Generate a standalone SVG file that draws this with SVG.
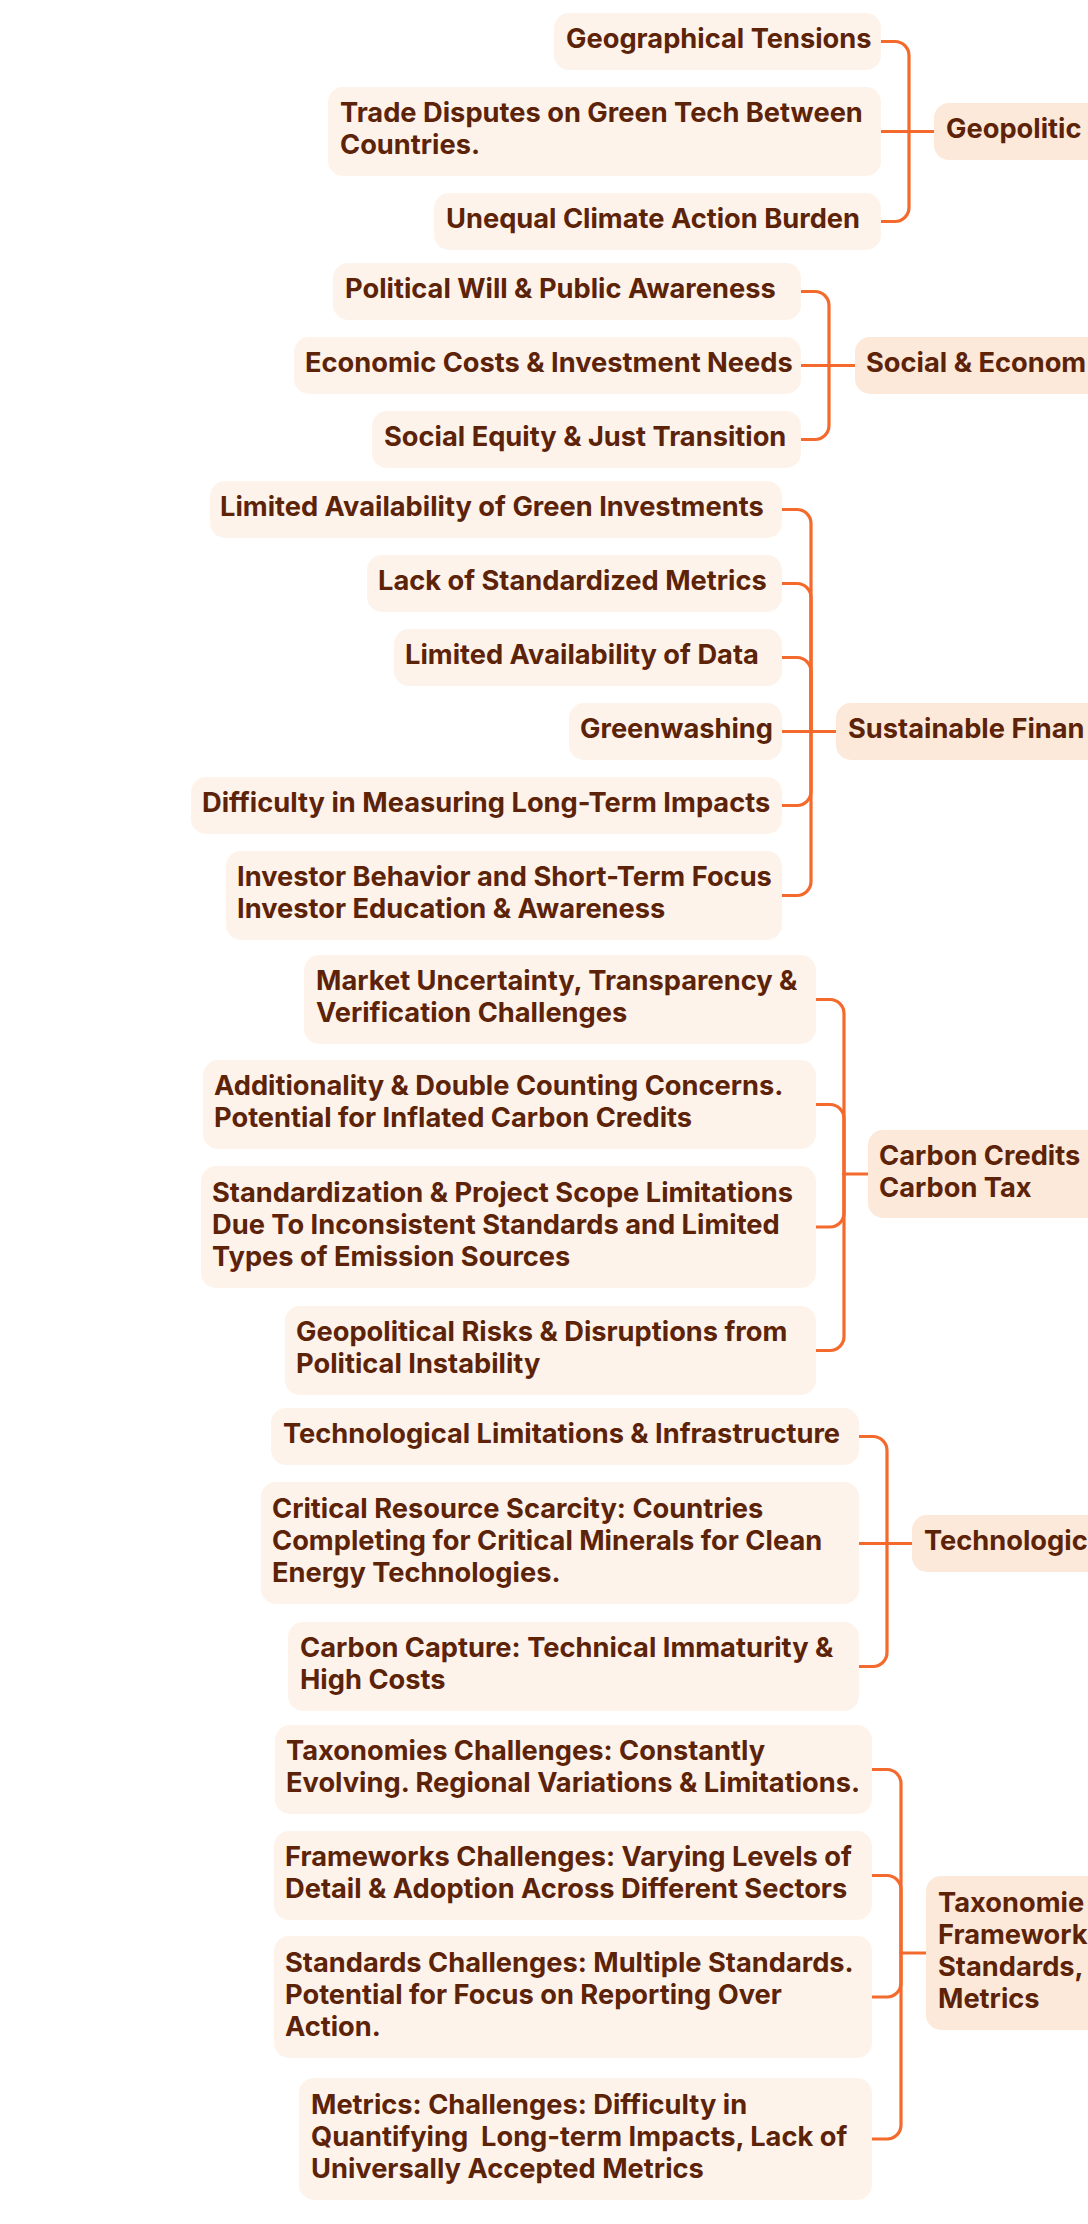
<svg xmlns="http://www.w3.org/2000/svg" width="1088" height="2224" viewBox="0 0 1088 2224">
<style>
.bg{fill:#ffffff}
.child{fill:#fdf3ea}
.parent{fill:#fce9d9}
.t{font-family:Inter,"Open Sans","Liberation Sans",sans-serif;font-weight:700;font-size:27.25px;fill:#5c2309}
.pre{white-space:pre}
.conn path{fill:none;stroke:#f4692c;stroke-width:3.2;stroke-linecap:round}
</style>
<rect class="bg" x="0" y="0" width="1088" height="2224"/>

<g id="connectors" class="conn">
<!-- Group 1 -->
<path d="M881 41.5 H895 A14 14 0 0 1 909 55.5 V131.5"/>
<path d="M881 131.5 H934"/>
<path d="M881 221.5 H895 A14 14 0 0 0 909 207.5 V131.5"/>
<!-- Group 2 -->
<path d="M801 291.5 H815 A14 14 0 0 1 829 305.5 V365.5"/>
<path d="M801 365.5 H855"/>
<path d="M801 439.5 H815 A14 14 0 0 0 829 425.5 V365.5"/>
<!-- Group 3 -->
<path d="M782 509.5 H797 A14 14 0 0 1 811 523.5 V731.5"/>
<path d="M782 583.5 H797 A14 14 0 0 1 811 597.5 V731.5"/>
<path d="M782 657.5 H797 A14 14 0 0 1 811 671.5 V731.5"/>
<path d="M782 731.5 H836"/>
<path d="M782 805.5 H797 A14 14 0 0 0 811 791.5 V731.5"/>
<path d="M782 895.5 H797 A14 14 0 0 0 811 881.5 V731.5"/>
<!-- Group 4 -->
<path d="M816 999.5 H830 A14 14 0 0 1 844 1013.5 V1174"/>
<path d="M816 1104.5 H830 A14 14 0 0 1 844 1118.5 V1174"/>
<path d="M816 1227 H830 A14 14 0 0 0 844 1213 V1174"/>
<path d="M816 1350.5 H830 A14 14 0 0 0 844 1336.5 V1174"/>
<path d="M844 1174 H868"/>
<!-- Group 5 -->
<path d="M859 1436.5 H873 A14 14 0 0 1 887 1450.5 V1543.5"/>
<path d="M859 1543.5 H912"/>
<path d="M859 1666.5 H873 A14 14 0 0 0 887 1652.5 V1543.5"/>
<!-- Group 6 -->
<path d="M872 1769.5 H887 A14 14 0 0 1 901 1783.5 V1953"/>
<path d="M872 1875.5 H887 A14 14 0 0 1 901 1889.5 V1953"/>
<path d="M872 1997 H887 A14 14 0 0 0 901 1983 V1953"/>
<path d="M872 2139 H887 A14 14 0 0 0 901 2125 V1953"/>
<path d="M901 1953 H926"/>
</g>

<!-- Group 1: Geopolitical -->
<g id="geo-tensions"><rect class="child" x="554" y="13" width="327" height="57" rx="15"/><text class="t" x="566" y="48">Geographical Tensions</text></g>
<g id="trade-disputes"><rect class="child" x="328" y="87" width="553" height="89" rx="15"/><text class="t" x="340" y="122">Trade Disputes on Green Tech Between</text><text class="t" x="340" y="154">Countries.</text></g>
<g id="unequal-burden"><rect class="child" x="434" y="193" width="447" height="57" rx="15"/><text class="t" x="446" y="228">Unequal Climate Action Burden</text></g>
<g id="geopolitical"><path class="parent" d="M949 103 H1088 V160 H949 A15 15 0 0 1 934 145 V118 A15 15 0 0 1 949 103 Z"/><text class="t" x="946" y="138">Geopolitic</text></g>

<!-- Group 2: Social & Economic -->
<g id="political-will"><rect class="child" x="333" y="263" width="468" height="57" rx="15"/><text class="t" x="345" y="298">Political Will &amp; Public Awareness</text></g>
<g id="economic-costs"><rect class="child" x="294" y="337" width="507" height="57" rx="15"/><text class="t" x="305" y="372">Economic Costs &amp; Investment Needs</text></g>
<g id="social-equity"><rect class="child" x="372" y="411" width="429" height="57" rx="15"/><text class="t" x="384" y="446">Social Equity &amp; Just Transition</text></g>
<g id="social-economic"><path class="parent" d="M870 337 H1088 V394 H870 A15 15 0 0 1 855 379 V352 A15 15 0 0 1 870 337 Z"/><text class="t" x="866" y="372">Social &amp; Econom</text></g>

<!-- Group 3: Sustainable Finance -->
<g id="green-investments"><rect class="child" x="210" y="481" width="572" height="57" rx="15"/><text class="t" x="220" y="516">Limited Availability of Green Investments</text></g>
<g id="standardized-metrics"><rect class="child" x="367" y="555" width="415" height="57" rx="15"/><text class="t" x="378" y="590">Lack of Standardized Metrics</text></g>
<g id="data-availability"><rect class="child" x="394" y="629" width="388" height="57" rx="15"/><text class="t" x="405" y="664">Limited Availability of Data</text></g>
<g id="greenwashing"><rect class="child" x="569" y="703" width="213" height="57" rx="15"/><text class="t" x="580" y="738">Greenwashing</text></g>
<g id="long-term-impacts"><rect class="child" x="191" y="777" width="591" height="57" rx="15"/><text class="t" x="202" y="812">Difficulty in Measuring Long-Term Impacts</text></g>
<g id="investor-behavior"><rect class="child" x="226" y="851" width="556" height="89" rx="15"/><text class="t" x="237" y="886">Investor Behavior and Short-Term Focus</text><text class="t" x="237" y="918">Investor Education &amp; Awareness</text></g>
<g id="sustainable-finance"><path class="parent" d="M851 703 H1088 V760 H851 A15 15 0 0 1 836 745 V718 A15 15 0 0 1 851 703 Z"/><text class="t" x="848" y="738">Sustainable Finan</text></g>

<!-- Group 4: Carbon Credits -->
<g id="market-uncertainty"><rect class="child" x="304" y="955" width="512" height="89" rx="15"/><text class="t" x="316" y="990">Market Uncertainty, Transparency &amp;</text><text class="t" x="316" y="1022">Verification Challenges</text></g>
<g id="additionality"><rect class="child" x="203" y="1060" width="613" height="89" rx="15"/><text class="t" x="214" y="1095">Additionality &amp; Double Counting Concerns.</text><text class="t" x="214" y="1127">Potential for Inflated Carbon Credits</text></g>
<g id="standardization"><rect class="child" x="201" y="1166" width="615" height="122" rx="15"/><text class="t" x="212" y="1201.5">Standardization &amp; Project Scope Limitations</text><text class="t" x="212" y="1233.5">Due To Inconsistent Standards and Limited</text><text class="t" x="212" y="1265.5">Types of Emission Sources</text></g>
<g id="geopolitical-risks"><rect class="child" x="285" y="1306" width="531" height="89" rx="15"/><text class="t" x="296" y="1341">Geopolitical Risks &amp; Disruptions from</text><text class="t" x="296" y="1373">Political Instability</text></g>
<g id="carbon-credits"><path class="parent" d="M883 1130 H1088 V1218 H883 A15 15 0 0 1 868 1203 V1145 A15 15 0 0 1 883 1130 Z"/><text class="t" x="879" y="1165">Carbon Credits</text><text class="t" x="879" y="1197">Carbon Tax</text></g>

<!-- Group 5: Technological -->
<g id="tech-limitations"><rect class="child" x="271" y="1408" width="588" height="57" rx="15"/><text class="t" x="283" y="1443">Technological Limitations &amp; Infrastructure</text></g>
<g id="resource-scarcity"><rect class="child" x="261" y="1482" width="598" height="122" rx="15"/><text class="t" x="272" y="1517.5">Critical Resource Scarcity: Countries</text><text class="t" x="272" y="1549.5">Completing for Critical Minerals for Clean</text><text class="t" x="272" y="1581.5">Energy Technologies.</text></g>
<g id="carbon-capture"><rect class="child" x="288" y="1622" width="571" height="89" rx="15"/><text class="t" x="300" y="1657">Carbon Capture: Technical Immaturity &amp;</text><text class="t" x="300" y="1689">High Costs</text></g>
<g id="technological"><path class="parent" d="M927 1515 H1088 V1572 H927 A15 15 0 0 1 912 1557 V1530 A15 15 0 0 1 927 1515 Z"/><text class="t" x="924" y="1550">Technologic</text></g>

<!-- Group 6: Taxonomies -->
<g id="taxonomies-challenges"><rect class="child" x="275" y="1725" width="597" height="89" rx="15"/><text class="t" x="286" y="1760">Taxonomies Challenges: Constantly</text><text class="t" x="286" y="1792">Evolving. Regional Variations &amp; Limitations.</text></g>
<g id="frameworks-challenges"><rect class="child" x="274" y="1831" width="598" height="89" rx="15"/><text class="t" x="285" y="1866">Frameworks Challenges: Varying Levels of</text><text class="t" x="285" y="1898">Detail &amp; Adoption Across Different Sectors</text></g>
<g id="standards-challenges"><rect class="child" x="274" y="1936" width="598" height="122" rx="15"/><text class="t" x="285" y="1971.5">Standards Challenges: Multiple Standards.</text><text class="t" x="285" y="2003.5">Potential for Focus on Reporting Over</text><text class="t" x="285" y="2035.5">Action.</text></g>
<g id="metrics-challenges"><rect class="child" x="299" y="2078" width="573" height="122" rx="15"/><text class="t" x="311" y="2113.5">Metrics: Challenges: Difficulty in</text><text class="t pre" x="311" y="2145.5">Quantifying  Long-term Impacts, Lack of</text><text class="t" x="311" y="2177.5">Universally Accepted Metrics</text></g>
<g id="taxonomies"><path class="parent" d="M941 1876 H1088 V2030 H941 A15 15 0 0 1 926 2015 V1891 A15 15 0 0 1 941 1876 Z"/><text class="t" x="938" y="1912">Taxonomie</text><text class="t" x="938" y="1944">Framework</text><text class="t" x="938" y="1976">Standards,</text><text class="t" x="938" y="2008">Metrics</text></g>
</svg>
